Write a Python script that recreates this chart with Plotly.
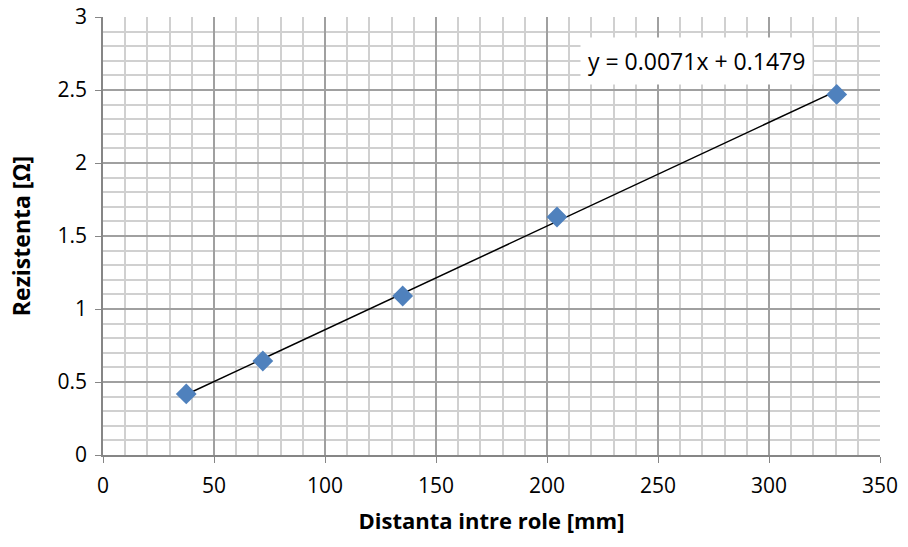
import plotly.graph_objects as go

# Measured data
distanta_mm = [37.5, 72, 135, 204.5, 330.5]
rezistenta_ohm = [0.418, 0.644, 1.089, 1.63, 2.47]

# Linear trendline coefficients
slope = 0.0071
intercept = 0.1479
trend_x = [min(distanta_mm), max(distanta_mm)]
trend_y = [slope * x + intercept for x in trend_x]

x_ticks = [0, 50, 100, 150, 200, 250, 300, 350]
y_ticks = [0, 0.5, 1, 1.5, 2, 2.5, 3]
y_tick_text = ["0", "0.5", "1", "1.5", "2", "2.5", "3"]

FONT = "Open Sans, Liberation Sans, sans-serif"
MAJOR = "#a0a0a0"
MINOR = "#d0d0d0"

fig = go.Figure()
fig.add_trace(go.Scatter(
    x=trend_x, y=trend_y, mode="lines",
    line=dict(color="black", width=1.5), showlegend=False, hoverinfo="skip"))
fig.add_trace(go.Scatter(
    x=distanta_mm, y=rezistenta_ohm, mode="markers",
    marker=dict(symbol="diamond", size=16, color="#4f81bd"),
    showlegend=False))

fig.add_annotation(
    x=267.5, y=2.7, xref="x", yref="y",
    text=f"y = {slope}x + {intercept}", showarrow=False,
    font=dict(family=FONT, size=23, color="black"),
    bgcolor="white", borderpad=7)

fig.update_layout(
    width=908, height=547,
    margin=dict(l=103, r=28, t=17, b=92),
    paper_bgcolor="white", plot_bgcolor="white",
    font=dict(family=FONT, size=21, color="black"),
    xaxis=dict(
        range=[0, 350], tickvals=x_ticks, ticks="outside", ticklen=6,
        ticklabelstandoff=5,
        tickcolor="#868686", showline=True, linecolor="#868686", linewidth=1.5,
        showgrid=True, gridcolor=MAJOR, gridwidth=1.5, zeroline=False,
        minor=dict(dtick=10, tick0=0, showgrid=True, gridcolor=MINOR, gridwidth=1.5),
        title=dict(text="<b>Distanta intre role [mm]</b>", font=dict(size=22), standoff=16),
        tickfont=dict(size=21), automargin=False),
    yaxis=dict(
        range=[0, 3], tickvals=y_ticks, ticktext=y_tick_text, ticks="outside", ticklen=6,
        ticklabelstandoff=4,
        tickcolor="#868686", showline=True, linecolor="#868686", linewidth=1.5,
        showgrid=True, gridcolor=MAJOR, gridwidth=1.5, zeroline=False,
        minor=dict(dtick=0.1, tick0=0, showgrid=True, gridcolor=MINOR, gridwidth=1.5),
        title=dict(text="<b>Rezistenta [Ω]</b>", font=dict(size=23), standoff=20),
        tickfont=dict(size=21), automargin=False),
)

fig.write_html("out.html")
